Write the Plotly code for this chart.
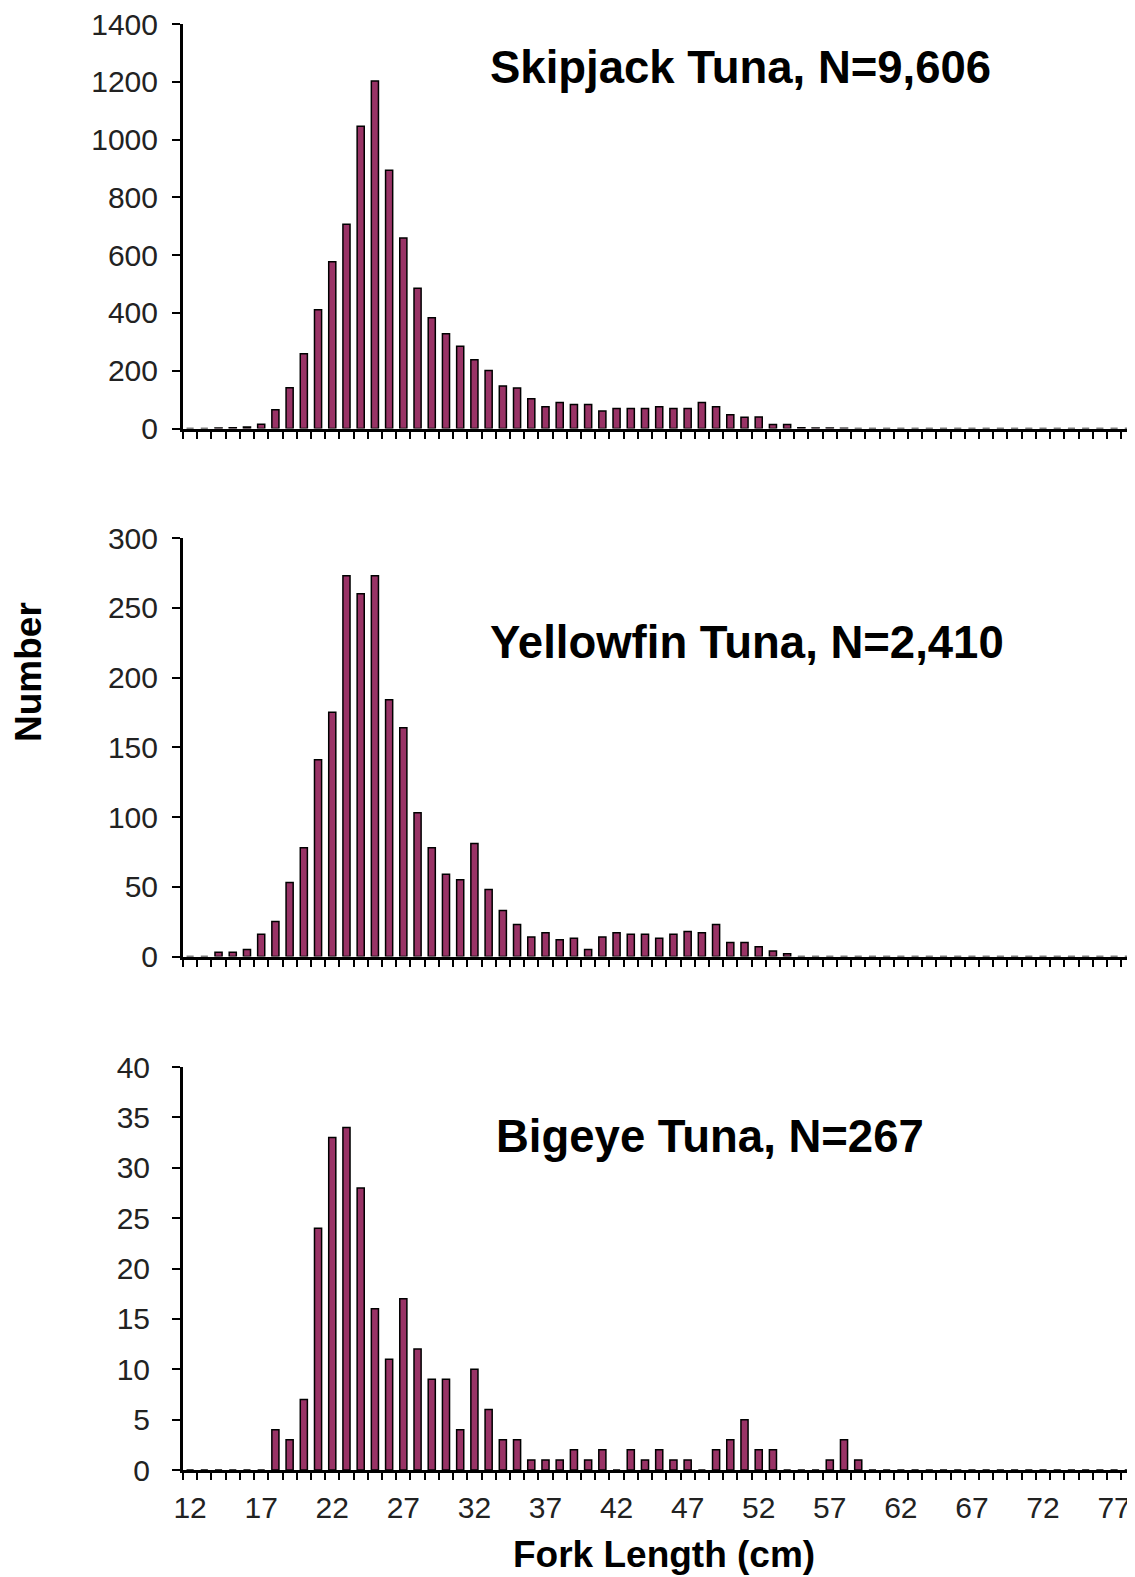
import plotly.graph_objects as go

# ---------------- data ----------------
length_cm = [12, 13, 14, 15, 16, 17, 18, 19, 20, 21, 22, 23, 24, 25, 26, 27, 28, 29, 30,
             31, 32, 33, 34, 35, 36, 37, 38, 39, 40, 41, 42, 43, 44, 45, 46, 47, 48, 49,
             50, 51, 52, 53, 54, 55, 56, 57, 58, 59, 60, 61, 62, 63, 64, 65, 66, 67, 68,
             69, 70, 71, 72, 73, 74, 75, 76, 77, 78]

tick_labels = [12, 17, 22, 27, 32, 37, 42, 47, 52, 57, 62, 67, 72, 77]

skipjack = [0, 0, 2, 3, 5, 15, 65, 141, 259, 411, 577, 707, 1046, 1203, 894, 659, 485, 383, 328,
            285, 238, 201, 147, 140, 103, 75, 90, 83, 83, 61, 69, 69, 69, 75, 69, 69, 90, 75,
            48, 39, 40, 14, 14, 3, 2, 2, 1, 0, 0, 0, 0, 0, 0, 0, 0, 0, 0,
            0, 0, 0, 0, 0, 0, 0, 0, 0, 0]

yellowfin = [0, 0, 3, 3, 5, 16, 25, 53, 78, 141, 175, 273, 260, 273, 184, 164, 103, 78, 59,
             55, 81, 48, 33, 23, 14, 17, 12, 13, 5, 14, 17, 16, 16, 13, 16, 18, 17, 23,
             10, 10, 7, 4, 2, 0, 0, 0, 0, 0, 0, 0, 0, 0, 0, 0, 0, 0, 0,
             0, 0, 0, 0, 0, 0, 0, 0, 0, 0]

bigeye = [0, 0, 0, 0, 0, 0, 4, 3, 7, 24, 33, 34, 28, 16, 11, 17, 12, 9, 9,
          4, 10, 6, 3, 3, 1, 1, 1, 2, 1, 2, 0, 2, 1, 2, 1, 1, 0, 2,
          3, 5, 2, 2, 0, 0, 0, 1, 3, 1, 0, 0, 0, 0, 0, 0, 0, 0, 0,
          0, 0, 0, 0, 0, 0, 0, 0, 0, 0]

panel_titles = ["Skipjack Tuna, N=9,606", "Yellowfin Tuna, N=2,410", "Bigeye Tuna, N=267"]
y_max = [1400, 300, 40]
y_step = [200, 50, 5]

# ---------------- layout helpers ----------------
OFF = 8                      # default page margin of the html body
W, H = 1135 - OFF, 1577 - OFF
L_REF = 183                  # plot-area left edge in page pixels
L, R = L_REF - OFF, 0
PW = W - L - R
X_RANGE = [11.5, 78.47]      # axis runs off the right edge as in the original


def py(px):
    """page pixel (from top) -> paper y"""
    return 1 - (px - OFF) / H


def pxx(px):
    """page pixel (from left) -> paper x"""
    return (px - OFF - L) / PW


domains = [(py(428.5), py(24)), (py(956.5), py(538)), (py(1470), py(1067))]
title_pos = [(488, 68), (488, 643), (494, 1136)]
y_standoff = [8, 8, 16]

BAR = "#993366"
FONT = "Liberation Sans, Arial, sans-serif"

fig = go.Figure()
series = [skipjack, yellowfin, bigeye]
for i, vals in enumerate(series):
    sfx = "" if i == 0 else str(i + 1)
    fig.add_trace(go.Bar(
        x=length_cm, y=vals, width=0.5,
        marker=dict(color=BAR, line=dict(color="black", width=1.5)),
        xaxis="x" + sfx, yaxis="y" + sfx, showlegend=False,
    ))

minor_vals = [c - 0.5 for c in length_cm] + [length_cm[-1] + 0.5]

layout = dict(
    width=W, height=H,
    margin=dict(l=L, r=R, t=0, b=0, autoexpand=False),
    paper_bgcolor="white", plot_bgcolor="white",
    font=dict(family=FONT, color="#111"),
    bargap=0.5,
    annotations=[],
)

for i in range(3):
    sfx = "" if i == 0 else str(i + 1)
    last = i == 2
    layout["xaxis" + sfx] = dict(
        domain=[0, 1], anchor="y" + sfx, range=X_RANGE, automargin=False,
        tickmode="array", tickvals=tick_labels, ticktext=[str(t) for t in tick_labels],
        ticks="", showticklabels=last, tickfont=dict(size=30, family=FONT, color="#222"),
        ticklabelstandoff=9, ticklabeloverflow="allow",
        showline=True, linecolor="black", linewidth=3, showgrid=False, zeroline=False,
        minor=dict(tickvals=minor_vals, ticks="outside", ticklen=7, tickwidth=2,
                   tickcolor="black", showgrid=False),
    )
    layout["yaxis" + sfx] = dict(
        domain=list(domains[i]), anchor="x" + sfx, range=[0, y_max[i]], automargin=False,
        tickmode="linear", tick0=0, dtick=y_step[i],
        ticks="outside", ticklen=8, tickwidth=2, tickcolor="black",
        tickfont=dict(size=30, family=FONT, color="#222"),
        ticklabelstandoff=y_standoff[i], ticklabeloverflow="allow",
        showline=True, linecolor="black", linewidth=3, showgrid=False, zeroline=False,
    )
    tx, ty = title_pos[i]
    layout["annotations"].append(dict(
        text="<b>" + panel_titles[i] + "</b>", xref="paper", yref="paper",
        x=pxx(tx), y=py(ty), xanchor="left", yanchor="middle", showarrow=False,
        font=dict(size=45.5, family=FONT, color="black"),
    ))

layout["annotations"].append(dict(
    text="<b>Number</b>", xref="paper", yref="paper", x=pxx(28), y=py(672),
    xanchor="center", yanchor="middle", textangle=-90, showarrow=False,
    font=dict(size=37, family=FONT, color="black"),
))
layout["annotations"].append(dict(
    text="<b>Fork Length (cm)</b>", xref="paper", yref="paper", x=pxx(664), y=py(1554),
    xanchor="center", yanchor="middle", showarrow=False,
    font=dict(size=37, family=FONT, color="black"),
))

fig.update_layout(**layout)
fig.write_html("out.html")
